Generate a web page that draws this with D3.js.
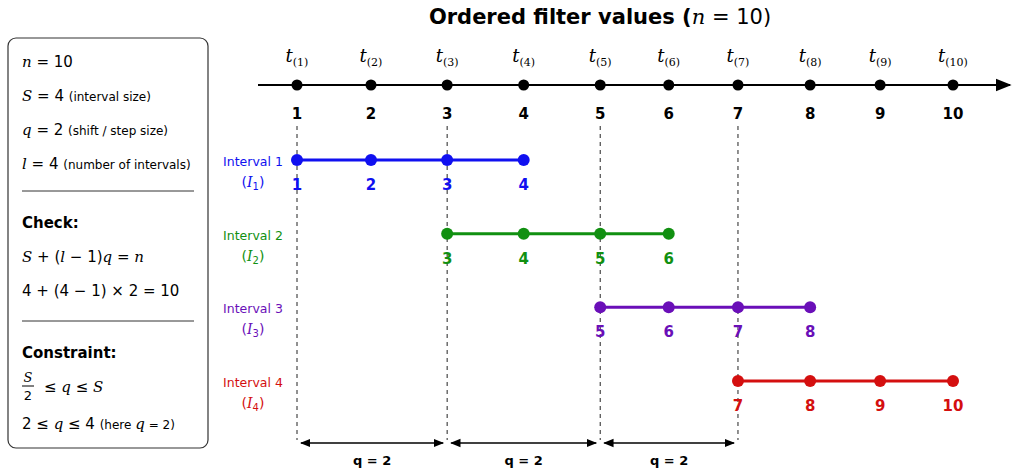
<!DOCTYPE html>
<html><head><meta charset="utf-8">
<script src="https://cdn.jsdelivr.net/npm/d3@7"></script>
<style>body{margin:0;background:#fff}text{font-family:"DejaVu Sans",sans-serif}.m{font-family:"DejaVu Serif",serif;font-style:italic}</style>
</head><body><svg id="c" width="1017" height="473"></svg>
<script>
// Data
const indices = [1, 2, 3, 4, 5, 6, 7, 8, 9, 10];
const filterValues = [0, 1.015, 2.06, 3.11, 4.16, 5.10, 6.05, 7.04, 8.0, 9.0];
const intervals = [
  { name: 'Interval 1', sub: '1', members: [1, 2, 3, 4], color: '#1010f0' },
  { name: 'Interval 2', sub: '2', members: [3, 4, 5, 6], color: '#119011' },
  { name: 'Interval 3', sub: '3', members: [5, 6, 7, 8], color: '#6a0fb8' },
  { name: 'Interval 4', sub: '4', members: [7, 8, 9, 10], color: '#d40f0f' }
];
const shifts = [[1, 3], [3, 5], [5, 7]];
const shiftLabels = ['q = 2', 'q = 2', 'q = 2'];

const svg = d3.select('#c');
const x = d3.scaleLinear().domain([0, 9]).range([297, 953]);
const y = d3.scaleLinear().domain([0, 3]).range([160, 381]);
const px = i => x(filterValues[i - 1]);

svg.append('defs').append('marker').attr('id', 'ah').attr('viewBox', '0 0 10 10')
  .attr('refX', 9).attr('refY', 5).attr('markerWidth', 8).attr('markerHeight', 8).attr('orient', 'auto-start-reverse')
  .append('path').attr('d', 'M0,1 L10,5 L0,9 z').attr('fill', '#000');

// title
const title = svg.append('text').attr('x', 600).attr('y', 24).attr('text-anchor', 'middle')
  .style('font-size', '21px').style('font-weight', 'bold');
title.append('tspan').text('Ordered filter values (');
title.append('tspan').attr('class', 'm').style('font-weight', 'normal').text('n');
title.append('tspan').style('font-weight', 'normal').text(' = 10)');

// main axis
svg.append('line').attr('x1', 258).attr('x2', 1010).attr('y1', 85).attr('y2', 85)
  .attr('stroke', '#000').attr('stroke-width', 2).attr('marker-end', 'url(#ah)');
indices.forEach(i => {
  svg.append('circle').attr('cx', px(i)).attr('cy', 85).attr('r', 5.5).attr('fill', '#000');
  const t = svg.append('text').attr('x', px(i)).attr('y', 62).attr('text-anchor', 'middle').style('font-size', '18px');
  t.append('tspan').attr('class', 'm').text('t');
  t.append('tspan').attr('dy', 4).style('font-size', '11px').attr('font-family', 'DejaVu Serif').text('(' + i + ')');
  svg.append('text').attr('x', px(i)).attr('y', 119).attr('text-anchor', 'middle')
    .style('font-size', '15px').style('font-weight', 'bold').text(i);
});

// dashed guides
shifts.flat().filter((v, k, a) => a.indexOf(v) === k).forEach(i => {
  svg.append('line').attr('x1', px(i)).attr('x2', px(i)).attr('y1', 126).attr('y2', 440)
    .attr('stroke', '#222').attr('stroke-dasharray', '4,4').attr('stroke-width', 1);
});

// intervals
intervals.forEach((iv, k) => {
  const g = svg.append('g').attr('fill', iv.color);
  const yy = y(k);
  g.append('line').attr('x1', px(iv.members[0])).attr('x2', px(iv.members[3])).attr('y1', yy).attr('y2', yy)
    .attr('stroke', iv.color).attr('stroke-width', 3);
  iv.members.forEach(m => {
    g.append('circle').attr('cx', px(m)).attr('cy', yy).attr('r', 6);
    g.append('text').attr('x', px(m)).attr('y', yy + 30).attr('text-anchor', 'middle')
      .style('font-size', '15px').style('font-weight', 'bold').text(m);
  });
  g.append('text').attr('x', 253).attr('y', yy + 6).attr('text-anchor', 'middle').style('font-size', '12.5px').text(iv.name);
  const s = g.append('text').attr('x', 253).attr('y', yy + 27).attr('text-anchor', 'middle').style('font-size', '14px');
  s.append('tspan').text('(');
  s.append('tspan').attr('class', 'm').text('I');
  s.append('tspan').attr('dy', 3).style('font-size', '10px').text(iv.sub);
  s.append('tspan').attr('dy', -3).text(')');
});

// shift arrows
shifts.forEach((sh, k) => {
  const a = px(sh[0]) + 4, b = px(sh[1]) - 4;
  svg.append('line').attr('x1', a).attr('x2', b).attr('y1', 443).attr('y2', 443)
    .attr('stroke', '#000').attr('stroke-width', 1.3).attr('marker-start', 'url(#ah)').attr('marker-end', 'url(#ah)');
  svg.append('text').attr('x', (a + b) / 2).attr('y', 465).attr('text-anchor', 'middle')
    .style('font-size', '13px').style('font-weight', 'bold').text(shiftLabels[k]);
});

// left box
svg.append('rect').attr('x', 8).attr('y', 38).attr('width', 200).attr('height', 410).attr('rx', 8)
  .attr('fill', '#fff').attr('stroke', '#333').attr('stroke-width', 1.2);
const lines = [
  { y: 67, parts: [['m', 'n'], ['', ' = 10']] },
  { y: 101, parts: [['m', 'S'], ['', ' = 4 '], ['s', ' (interval size)']] },
  { y: 135, parts: [['m', 'q'], ['', ' = 2 '], ['s', ' (shift / step size)']] },
  { y: 169, parts: [['m', 'l'], ['', ' = 4 '], ['s', ' (number of intervals)']] },
  { y: 228, parts: [['b', 'Check:']] },
  { y: 262, parts: [['m', 'S'], ['', ' + ('], ['m', 'l'], ['', ' − 1)'], ['m', 'q'], ['', ' = '], ['m', 'n']] },
  { y: 296, parts: [['', '4 + (4 − 1) × 2 = 10']] },
  { y: 358, parts: [['b', 'Constraint:']] },
  { y: 429, parts: [['', '2 ≤ '], ['m', 'q'], ['', ' ≤ 4  '], ['s', ' (here '], ['m', 'q'], ['s', ' = 2)']] }
];
lines.forEach(l => {
  const t = svg.append('text').attr('x', 22).attr('y', l.y).style('font-size', '15px').attr('font-family', 'DejaVu Serif');
  l.parts.forEach(([c, s]) => {
    const sp = t.append('tspan').text(s);
    if (c === 'm') sp.attr('class', 'm');
    if (c === 's') sp.style('font-size', '12px').attr('font-family', 'DejaVu Sans');
    if (c === 'b') sp.style('font-weight', 'bold').attr('font-family', 'DejaVu Sans');
  });
});
[191, 321].forEach(yy => svg.append('line').attr('x1', 22).attr('x2', 194).attr('y1', yy).attr('y2', yy).attr('stroke', '#333'));
// fraction S/2
svg.append('text').attr('x', 28).attr('y', 382).attr('text-anchor', 'middle').attr('class', 'm').style('font-size', '13px').text('S');
svg.append('line').attr('x1', 22).attr('x2', 34).attr('y1', 386).attr('y2', 386).attr('stroke', '#000');
svg.append('text').attr('x', 28).attr('y', 400).attr('text-anchor', 'middle').attr('font-family', 'DejaVu Serif').style('font-size', '13px').text('2');
const c2 = svg.append('text').attr('x', 44).attr('y', 392).style('font-size', '15px').attr('font-family', 'DejaVu Serif');
c2.append('tspan').text('≤ ');
c2.append('tspan').attr('class', 'm').text('q');
c2.append('tspan').text(' ≤ ');
c2.append('tspan').attr('class', 'm').text('S');
</script></body></html>
